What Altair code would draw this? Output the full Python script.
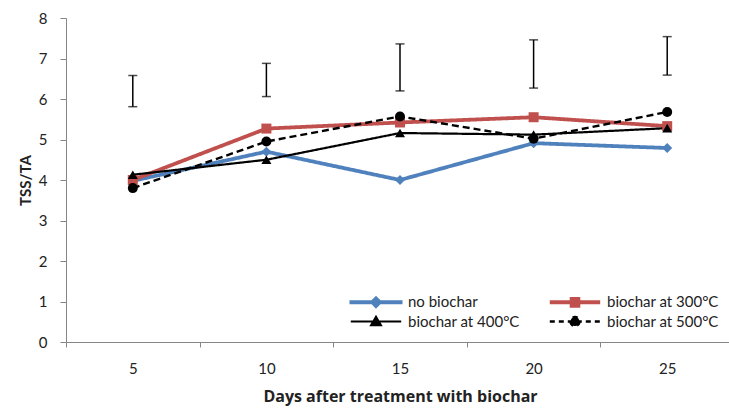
import altair as alt
import pandas as pd

days = ["5", "10", "15", "20", "25"]
series_names = ["no biochar", "biochar at 300°C", "biochar at 400°C", "biochar at 500°C"]
no_biochar = [3.98, 4.70, 4.00, 4.91, 4.79]
biochar_300 = [4.00, 5.27, 5.42, 5.55, 5.33]
biochar_400 = [4.13, 4.50, 5.16, 5.12, 5.28]
biochar_500 = [3.80, 4.95, 5.57, 5.02, 5.68]
err_low = [5.81, 6.06, 6.20, 6.27, 6.59]
err_high = [6.58, 6.88, 7.36, 7.46, 7.54]
y_ticks = [0, 1, 2, 3, 4, 5, 6, 7, 8]

colors = ["#4F81BD", "#C0504D", "#000000", "#000000"]
marker_shapes = ["diamond", "square", "triangle-up", "circle"]
legend_shapes = [
    "M-4.42,0H4.42M0,-0.6L0.6,0L0,0.6L-0.6,0Z",
    "M-4.2,0H4.2M-0.55,-0.55H0.55V0.55H-0.55Z",
    "M-4.2,0H4.2M0,-0.75L0.8,0.6L-0.8,0.6Z",
    "M-4.2,0H4.2M-0.75,0A0.75,0.75 0 1,0 0.75,0A0.75,0.75 0 1,0 -0.75,0Z",
]

FONT = "Lato"
TITLE_FONT = "Open Sans"
GREY = "#868686"
TEXT = "#222222"

rows = []
for name, vals in zip(series_names, [no_biochar, biochar_300, biochar_400, biochar_500]):
    for d, v in zip(days, vals):
        rows.append({"day": d, "series": name, "value": v})
df = pd.DataFrame(rows)
err_df = pd.DataFrame({"day": days, "low": err_low, "high": err_high})

x_enc = alt.X(
    "day:O",
    sort=days,
    scale=alt.Scale(type="band", domain=days, range=[0, 668], paddingInner=0, paddingOuter=0),
    axis=alt.Axis(
        title="Days after treatment with biochar",
        tickBand="extent", labelAngle=0, tickSize=5, tickColor=GREY, domainColor=GREY,
        labelFont=FONT, labelFontSize=15, labelColor=TEXT, labelPadding=14,
        titleFont=TITLE_FONT, titleFontSize=16, titleFontWeight="bold", titleColor=TEXT,
        titlePadding=12, grid=False,
    ),
)
y_scale = alt.Scale(domain=[0, 8], nice=False)
y_enc = alt.Y(
    "value:Q",
    scale=y_scale,
    axis=alt.Axis(
        title="TSS/TA", values=y_ticks, tickSize=6, tickColor=GREY, domainColor=GREY,
        labelFont=FONT, labelFontSize=15, labelColor=TEXT, labelPadding=13,
        titleFont=FONT, titleFontSize=15, titleFontWeight="bold", titleColor=TEXT,
        titlePadding=5, grid=False,
    ),
)

lines = alt.Chart(df).mark_line().encode(
    x=x_enc,
    y=y_enc,
    color=alt.Color("series:N", sort=series_names,
                    scale=alt.Scale(domain=series_names, range=colors), legend=None),
    strokeDash=alt.StrokeDash("series:N", sort=series_names,
                              scale=alt.Scale(domain=series_names, range=[[1, 0], [1, 0], [1, 0], [7, 4]]),
                              legend=None),
    strokeWidth=alt.StrokeWidth("series:O", sort=series_names,
                                scale=alt.Scale(type="ordinal", domain=series_names, range=[3.8, 3.8, 2.2, 2.4]),
                                legend=None),
)

points = alt.Chart(df).mark_point(filled=True, opacity=1, size=100).encode(
    x=x_enc,
    y=y_enc,
    fill=alt.Fill("series:N", sort=series_names,
                  scale=alt.Scale(domain=series_names, range=colors), legend=None),
    shape=alt.Shape("series:N", sort=series_names,
                    scale=alt.Scale(domain=series_names, range=marker_shapes), legend=None),
)

leg = dict(
    orient="none", legendX=302, legendY=276, columns=2, direction="horizontal",
    title=None, padding=0,
    symbolSize=144, labelOffset=24, columnPadding=21, rowPadding=-3,
    labelFont=FONT, labelFontSize=15, labelColor=TEXT,
)

legend_layer = alt.Chart(df).transform_filter("false").mark_point(opacity=1).encode(
    x=x_enc,
    y=y_enc,
    fill=alt.Fill("series:N", sort=series_names,
                  scale=alt.Scale(domain=series_names, range=colors), legend=alt.Legend(**leg)),
    stroke=alt.Stroke("series:N", sort=series_names,
                      scale=alt.Scale(domain=series_names, range=colors), legend=alt.Legend(**leg)),
    shape=alt.Shape("series:N", sort=series_names,
                    scale=alt.Scale(domain=series_names, range=legend_shapes), legend=alt.Legend(**leg)),
    strokeDash=alt.StrokeDash("series:N", sort=series_names,
                              scale=alt.Scale(domain=series_names, range=[[1, 0], [1, 0], [1, 0], [5, 4]]),
                              legend=alt.Legend(**leg)),
    strokeWidth=alt.StrokeWidth("series:O", sort=series_names,
                                scale=alt.Scale(type="ordinal", domain=series_names, range=[4.0, 4.0, 2.2, 2.4]),
                                legend=alt.Legend(**leg)),
)

err_rules = alt.Chart(err_df).mark_rule(color="black", strokeWidth=1.5).encode(
    x=x_enc, y=alt.Y("low:Q", scale=y_scale), y2="high:Q"
)
err_caps_low = alt.Chart(err_df).mark_tick(color="black", size=9, thickness=1.5).encode(
    x=x_enc, y=alt.Y("low:Q", scale=y_scale)
)
err_caps_high = alt.Chart(err_df).mark_tick(color="black", size=9, thickness=1.5).encode(
    x=x_enc, y=alt.Y("high:Q", scale=y_scale)
)

chart = alt.layer(
    err_rules, err_caps_low, err_caps_high, lines, points, legend_layer
).resolve_scale(
    color="independent", fill="independent", stroke="independent",
    shape="independent", strokeDash="independent", strokeWidth="independent",
).properties(
    width=662, height=324,
    padding={"left": 66, "top": 18, "right": 1, "bottom": 66},
    autosize=alt.AutoSizeParams(type="none"),
    background="white",
).configure_view(stroke=None)

chart.save("out.html", embed_options={"renderer": "svg", "actions": False})
